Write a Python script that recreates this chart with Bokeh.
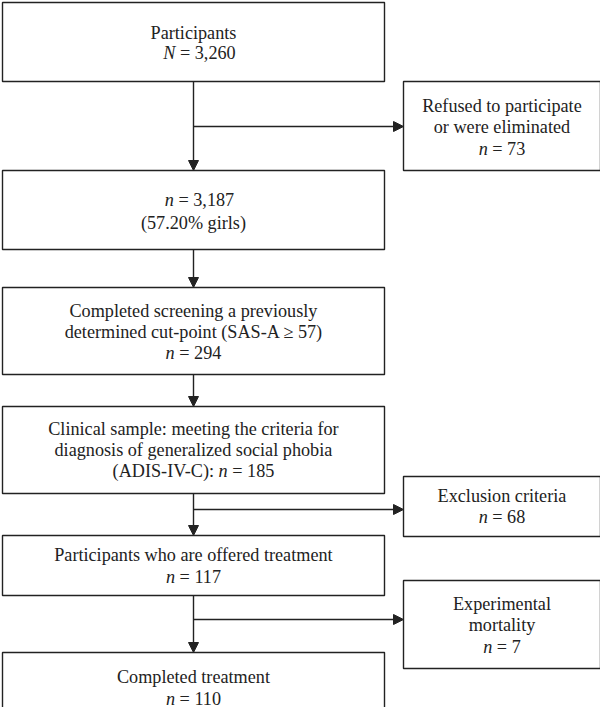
from bokeh.plotting import figure
from bokeh.models import Range1d, Arrow, NormalHead
from bokeh.core.properties import value
from bokeh.embed import file_html
from bokeh.resources import INLINE

# ---- data ----
main_titles = [
    ["Participants"],
    [],
    ["Completed screening a previously", "determined cut-point (SAS-A \u2265 57)"],
    ["Clinical sample: meeting the criteria for", "diagnosis of generalized social phobia"],
    ["Participants who are offered treatment"],
    ["Completed treatment"],
]
main_counts = ["N = 3,260", "n = 3,187", "n = 294", "(ADIS-IV-C): n = 185", "n = 117", "n = 110"]
main_extra = ["", "(57.20% girls)", "", "", "", ""]
side_titles = [["Refused to participate", "or were eliminated"], ["Exclusion criteria"], ["Experimental", "mortality"]]
side_counts = ["n = 73", "n = 68", "n = 7"]

# ---- layout (page pixel coords) ----
main_box = [(10, 89), (178, 257), (295, 382), (414, 501), (543, 603), (660, 740)]
main_lines_y = [[40, 60], [207, 230], [318, 339, 360], [436, 457, 478], [562, 584], [684, 706]]
side_box = [(89, 178), (484, 544), (588, 676)]
side_lines_y = [[113, 134, 156], [503, 524], [611, 632, 654]]
branch_y = [134, 517, 627]
MX0, MX1 = 10, 392
SX0, SX1 = 411, 608
CX = 201
FS = 18.2
FONT = "Liberation Serif"
NB = "\u00a0"

try:
    from PIL import ImageFont
    import glob
    fr = [f for f in glob.glob("/usr/share/fonts/**/LiberationSerif-Regular.ttf", recursive=True)]
    fi = [f for f in glob.glob("/usr/share/fonts/**/LiberationSerif-Italic.ttf", recursive=True)]
    F_R = ImageFont.truetype(fr[0], 100)
    F_I = ImageFont.truetype(fi[0], 100)
    def tw(s, it):
        return (F_I if it else F_R).getlength(s.replace(NB, " ")) * FS / 100
except Exception:
    def tw(s, it):
        return len(s) * FS * 0.46

p = figure(width=600, height=707, output_backend="svg", toolbar_location=None,
           x_range=Range1d(8, 608), y_range=Range1d(715, 8), min_border=0)
p.axis.visible = False
p.grid.visible = False
p.outline_line_color = None

def box(x0, x1, y0, y1):
    p.quad(left=x0, right=x1, top=y0, bottom=y1, fill_color=None, line_color="#222222", line_width=1.4)

def seg_line(text, cx, y):
    segs = []
    if "n = " in text or "N = " in text:
        k = text.find("n = ") if "n = " in text else text.find("N = ")
        if text[:k]:
            segs.append((text[:k].replace(" ", NB), False))
        segs.append((text[k], True))
        segs.append((text[k+1:].replace(" ", NB), False))
    else:
        segs.append((text, False))
    total = sum(tw(s, it) for s, it in segs)
    x = cx - total / 2
    for s, it in segs:
        p.text(x=[x], y=[y], text=[s], text_font=value(FONT), text_font_size=f"{FS}px",
               text_font_style="italic" if it else "normal", text_align="left",
               text_baseline="middle", text_color="#222222")
        x += tw(s, it)

for i, (y0, y1) in enumerate(main_box):
    box(MX0, MX1, y0, y1)
    if i == 1:
        lines = [main_counts[i], main_extra[i]]
    else:
        lines = list(main_titles[i]) + [main_counts[i]]
    for t, y in zip(lines, main_lines_y[i]):
        seg_line(t, (MX0 + MX1) / 2 + (6 if i in (0, 1) and t.startswith(("N", "n")) else 0), y)

for i, (y0, y1) in enumerate(side_box):
    box(SX0, SX1, y0, y1)
    for t, y in zip(side_titles[i] + [side_counts[i]], side_lines_y[i]):
        seg_line(t, (SX0 + SX1) / 2, y)

def arrow(x0, y0, x1, y1):
    p.add_layout(Arrow(end=NormalHead(size=10, fill_color="#222222", line_color="#222222"),
                       x_start=x0, y_start=y0, x_end=x1, y_end=y1,
                       line_width=1.4, line_color="#222222"))

for i in range(len(main_box) - 1):
    arrow(CX, main_box[i][1], CX, main_box[i + 1][0])
for by in branch_y:
    arrow(CX, by, SX0, by)

open("out.html", "w").write(file_html(p, INLINE))
